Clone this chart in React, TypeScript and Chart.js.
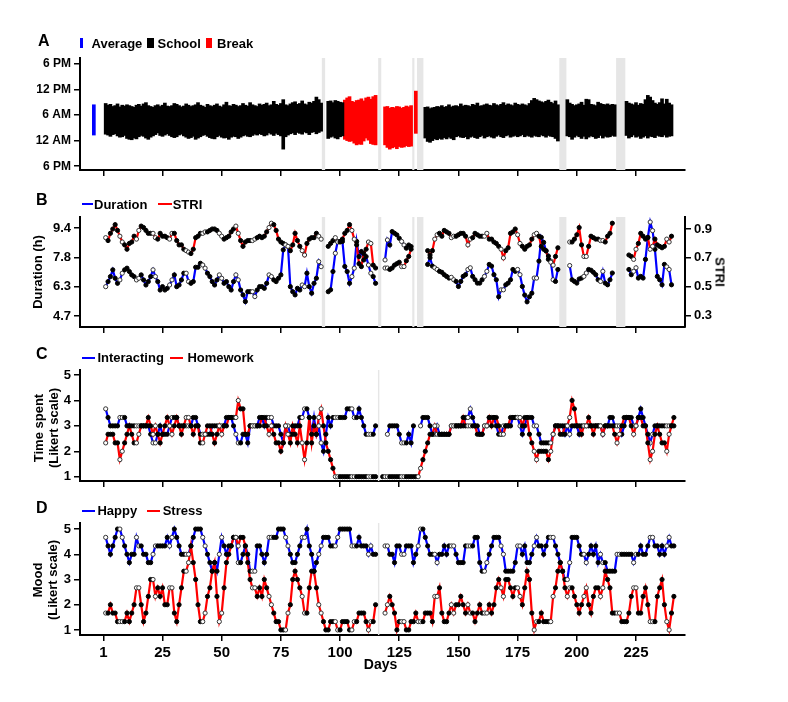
import React, { useEffect, useRef } from "react";
import { Chart, registerables } from "chart.js";

Chart.register(...registerables);

const FONT = "'Liberation Sans', Arial, Helvetica, sans-serif";
Chart.defaults.font.family = FONT;
Chart.defaults.color = "#000";

const BLUE = "#0000ff";
const RED = "#ff0000";
const BAND = "#e6e6e6";

// ---------- shared x axis (days) ----------
const X_MIN = -9.85;
const X_MAX = 245.7;
const xTickValues = [0, 25, 50, 75, 100, 125, 150, 175, 200, 225];
const xTickLabels = ["1", "25", "50", "75", "100", "125", "150", "175", "200", "225"];

// grey "no data" bands (day ranges)
const bandsAB: [number, number][] = [
  [92.3, 93.7], [116.1, 117.4], [130.5, 131.4], [132.5, 135.2], [192.6, 195.6], [216.6, 220.5],
];
const bandsCD: [number, number][] = [[116.0, 116.6]];

// ---------- Panel A: sleep (hours after 6 PM of the previous day) ----------
const sleepTickValues = [0, 6, 12, 18, 24];
const sleepTickLabels = ["6 PM", "12 AM", "6 AM", "12 PM", "6 PM"];
const avgDay = -4;
const avgBed = 7.3;
const avgWake = 14.4;

const schoolStarts = [1, 95, 136, 196, 221];
const schoolWake = [
  [14.7, 14.3, 14.5, 14.0, 14.2, 14.6, 13.9, 14.3, 14.1, 14.4,
   14.2, 14.0, 13.8, 14.3, 14.5, 14.1, 14.6, 14.9, 14.2, 14.0,
   13.8, 14.2, 14.4, 14.0, 14.3, 14.8, 14.1, 14.0, 14.2, 14.7,
   14.5, 14.2, 13.9, 14.1, 14.6, 14.3, 14.0, 14.2, 14.4, 14.9,
   14.3, 14.1, 13.8, 14.5, 14.2, 14.0, 14.3, 14.6, 14.1, 13.9,
   14.4, 15.0, 14.2, 14.1, 14.5, 14.3, 14.0, 14.2, 14.7, 14.3,
   14.1, 14.9, 14.4, 14.2, 14.0, 14.6, 14.3, 14.5, 14.8, 14.2,
   14.4, 15.2, 14.5, 14.3, 14.7, 15.6, 14.4, 14.2, 14.6, 14.9,
   15.1, 14.5, 14.7, 15.3, 14.6, 14.4, 15.0, 14.8, 15.2, 16.2,
   15.6, 14.8],
  [15.2, 15.3, 14.9, 15.4, 15.2, 15.0, 14.9],
  [13.8, 13.9, 13.5, 13.7, 13.8, 14.0, 13.9, 14.2, 13.8, 14.0,
   14.4, 13.9, 14.1, 14.2, 14.0, 14.6, 14.1, 14.3, 14.2, 14.0,
   14.5, 14.3, 14.8, 14.1, 14.2, 14.4, 14.6, 14.3, 14.2, 14.7,
   14.4, 14.2, 14.5, 14.9, 14.3, 14.6, 14.4, 14.2, 14.8, 14.5,
   14.3, 14.6, 14.4, 14.2, 14.7, 15.4, 15.9, 15.6, 15.3, 15.1,
   14.9, 15.2, 15.5, 15.0, 14.7, 15.3, 14.4],
  [15.6, 14.8, 14.5, 14.2, 14.4, 14.6, 15.0, 14.3, 15.7, 15.6,
   14.5, 14.4, 14.2, 15.0, 14.7, 14.5, 14.4, 14.6, 14.3, 14.5, 14.4],
  [15.2, 14.8, 14.6, 14.4, 14.9, 14.3, 14.7, 14.5, 15.6, 16.6,
   16.2, 15.4, 14.8, 14.5, 14.9, 15.8, 14.6, 15.7, 14.8, 14.4],
];
const schoolBed = [
  [7.5, 7.3, 7.0, 7.4, 7.6, 7.1, 6.8, 6.9, 7.2, 6.5,
   6.3, 6.2, 6.6, 6.4, 6.9, 7.2, 7.0, 6.6, 6.3, 6.8,
   7.1, 7.4, 7.8, 7.2, 7.0, 7.3, 7.6, 7.2, 6.9, 6.7,
   6.9, 7.3, 7.5, 7.1, 6.8, 6.5, 6.7, 7.0, 6.3, 6.6,
   6.9, 7.2, 7.4, 7.0, 6.7, 6.5, 6.4, 6.9, 7.2, 6.8,
   6.6, 6.7, 6.3, 6.8, 7.0, 6.9, 6.5, 6.8, 7.1, 7.3,
   7.0, 6.9, 7.2, 7.5, 7.3, 7.6, 7.4, 7.1, 7.3, 7.8,
   7.5, 7.2, 7.7, 7.4, 7.1, 4.0, 6.9, 7.3, 7.6, 7.8,
   7.4, 7.9, 7.7, 7.5, 8.0, 7.8, 7.4, 7.9, 8.1, 7.6,
   7.9, 8.2],
  [6.5, 6.8, 7.0, 6.6, 6.4, 6.9, 7.1],
  [6.6, 5.8, 5.6, 6.0, 6.4, 6.2, 6.5, 6.3, 6.7, 6.4,
   6.8, 6.5, 6.2, 6.9, 7.1, 6.8, 6.7, 6.9, 6.4, 6.8,
   7.0, 6.7, 6.5, 6.9, 7.2, 6.6, 6.9, 7.1, 6.8, 6.6,
   7.0, 7.3, 6.9, 6.7, 7.1, 7.3, 6.8, 7.0, 7.2, 6.9,
   7.1, 7.4, 6.9, 7.2, 7.0, 6.8, 7.2, 7.0, 6.9, 7.3,
   7.1, 6.8, 7.2, 7.0, 6.9, 6.5, 5.9],
  [7.1, 6.9, 6.3, 6.8, 7.2, 6.9, 6.5, 7.0, 6.4, 6.8,
   7.1, 6.9, 6.5, 6.7, 7.2, 6.6, 7.0, 6.8, 6.9, 7.2, 7.0],
  [7.2, 6.6, 6.9, 7.3, 6.8, 7.0, 6.5, 6.8, 7.1, 6.6,
   7.0, 6.9, 6.7, 7.2, 7.0, 6.9, 7.3, 6.8, 7.0, 7.1],
];
const breakStarts = [102, 119, 132];
const breakWake = [
  [15.5, 16.0, 16.3, 15.2, 15.0, 15.4, 15.5, 15.8, 15.3, 16.0, 16.2, 15.7, 16.3, 16.6],
  [13.9, 14.0, 13.6, 13.8, 13.7, 14.0, 13.9, 13.6, 13.8, 14.1, 13.9, 14.2],
  [17.6],
];
const breakBed = [
  [6.3, 6.0, 5.8, 5.9, 5.4, 5.0, 5.2, 5.1, 5.9, 6.6, 6.1, 5.3, 5.1, 5.0],
  [5.0, 4.4, 4.0, 4.3, 4.5, 4.1, 4.6, 4.4, 4.5, 4.8, 4.6, 4.7],
  [7.7],
];

// ---------- Panel B: sleep duration (h) and STRI ----------
type Seg = [number, number[]];
const durationTicks = [4.7, 6.2667, 7.8333, 9.4];
const durationTickLabels = ["4.7", "6.3", "7.8", "9.4"];
const striTicks = [0.3, 0.5, 0.7, 0.9];
const striTickLabels = ["0.3", "0.5", "0.7", "0.9"];

const durationSegs: Seg[] = [
  [1, [6.27, 6.54, 6.81, 7.17, 6.72, 6.45, 6.63, 6.99, 7.17, 7.26,
       7.08, 6.90, 6.81, 6.63, 6.72, 6.90, 6.63, 6.36, 6.54, 6.81,
       7.17, 6.81, 6.54, 6.09, 6.27, 6.09, 6.18, 6.36, 6.63, 6.90,
       6.27, 6.36, 6.63, 6.99, 6.99, 6.54, 6.45, 6.54, 7.31, 7.31,
       7.52, 7.43, 7.26, 6.99, 6.81, 6.54, 6.36, 6.63, 6.90, 6.72,
       6.45, 6.54, 6.27, 6.09, 6.54, 6.90, 6.63, 6.09, 5.83, 5.47,
       6.00, 6.00, 6.00, 5.74, 6.09, 6.27, 6.27, 6.18, 6.45, 6.90,
       6.81, 6.63, 6.54, 6.72, 6.90, 8.24, 8.51, 8.42, 6.27, 6.00,
       5.83, 6.18, 6.09, 6.36, 6.27, 6.99, 6.27, 5.92, 6.45, 6.72,
       7.61, 7.34]],
  [95, [6.0, 6.1, 7.08, 8.06, 8.69, 8.69, 8.69, 7.35, 7.08, 6.45, 6.81,
        7.26, 8.69, 7.88, 8.15, 7.7, 7.88, 7.43, 6.99, 6.81, 6.45]],
  [119, [7.7, 8.77, 8.5, 9.22, 9.13, 9.04, 8.86, 8.69, 8.5, 8.33, 8.5, 8.42]],
  [137, [7.46, 7.82, 7.37, 7.28, 7.19, 7.09, 7.04, 6.91, 6.82, 6.73,
         6.77, 6.64, 6.55, 6.28, 6.55, 6.82, 6.91, 7.19, 7.28, 6.82,
         6.64, 6.46, 6.46, 6.64, 6.82, 7.09, 7.46, 7.37, 6.91, 6.64,
         5.73, 6.10, 6.10, 6.37, 6.46, 6.64, 7.19, 7.09, 7.19, 6.91,
         6.28, 5.82, 5.46, 5.73, 5.92, 6.73, 6.73, 7.64, 8.91, 8.64,
         8.18, 7.91, 7.64, 6.64, 6.55, 7.19]],
  [197, [7.40, 6.64, 6.55, 6.46, 6.68, 6.73, 6.82, 7.00, 7.19, 7.15,
         7.04, 6.91, 6.64, 6.55, 7.09, 6.46, 6.37, 6.64, 7.00]],
  [222, [7.19, 6.91, 7.09, 7.28, 6.73, 6.82, 6.73, 7.73, 8.91, 9.73,
         9.27, 8.27, 6.82, 6.64, 6.37, 7.46, 7.33, 7.19, 6.37]],
];
const striSegs: Seg[] = [
  [1, [0.84, 0.82, 0.87, 0.90, 0.93, 0.89, 0.85, 0.81, 0.79, 0.76,
       0.80, 0.81, 0.85, 0.83, 0.89, 0.92, 0.91, 0.89, 0.87, 0.87,
       0.87, 0.84, 0.83, 0.87, 0.85, 0.85, 0.84, 0.83, 0.87, 0.87,
       0.82, 0.79, 0.79, 0.76, 0.75, 0.74, 0.73, 0.76, 0.84, 0.85,
       0.87, 0.87, 0.88, 0.88, 0.89, 0.90, 0.90, 0.89, 0.87, 0.85,
       0.83, 0.84, 0.85, 0.88, 0.90, 0.92, 0.87, 0.82, 0.78, 0.81,
       0.82, 0.82, 0.82, 0.83, 0.84, 0.85, 0.84, 0.85, 0.88, 0.91,
       0.94, 0.93, 0.89, 0.83, 0.81, 0.80, 0.79, 0.78, 0.75, 0.79,
       0.87, 0.82, 0.78, 0.75, 0.72, 0.80, 0.83, 0.84, 0.84, 0.87,
       0.85, 0.83]],
  [95, [0.78, 0.80, 0.82, 0.84, 0.81, 0.81, 0.83, 0.87, 0.89, 0.93, 0.89,
        0.83, 0.79, 0.66, 0.64, 0.73, 0.76, 0.81, 0.80, 0.65, 0.63]],
  [119, [0.63, 0.63, 0.62, 0.63, 0.65, 0.66, 0.67, 0.64, 0.64, 0.68, 0.71, 0.76]],
  [137, [0.75, 0.72, 0.75, 0.83, 0.86, 0.87, 0.85, 0.89, 0.88, 0.87,
         0.84, 0.85, 0.85, 0.86, 0.87, 0.87, 0.85, 0.79, 0.83, 0.84,
         0.87, 0.86, 0.85, 0.85, 0.85, 0.87, 0.83, 0.83, 0.81, 0.80,
         0.78, 0.76, 0.70, 0.75, 0.77, 0.87, 0.88, 0.90, 0.86, 0.80,
         0.78, 0.76, 0.78, 0.79, 0.83, 0.86, 0.87, 0.85, 0.78, 0.76,
         0.75, 0.69, 0.67, 0.65, 0.71, 0.77]],
  [197, [0.81, 0.81, 0.83, 0.86, 0.91, 0.79, 0.71, 0.71, 0.78, 0.85,
         0.84, 0.83, 0.83, 0.82, 0.82, 0.81, 0.85, 0.87, 0.94]],
  [222, [0.72, 0.71, 0.69, 0.76, 0.80, 0.87, 0.85, 0.83, 0.84, 0.76,
         0.78, 0.83, 0.79, 0.78, 0.77, 0.78, 0.83, 0.81, 0.85]],
];

// ---------- Panel C: time spent (Likert) ----------
const likertTicks = [1, 2, 3, 4, 5];
const likertTickLabels = ["1", "2", "3", "4", "5"];
const interactingSegs: Seg[] = [
  [1, [3.67, 3.33, 3.0, 3.0, 3.0, 3.0, 3.33, 3.33, 3.33, 3.0,
       3.0, 3.0, 3.0, 3.0, 3.0, 3.0, 3.0, 3.0, 3.0, 2.67,
       2.33, 2.33, 2.67, 3.0, 2.67, 2.67, 2.67, 3.0, 3.33, 3.33,
       3.33, 3.0, 3.0, 3.0, 3.0, 3.0, 3.0, 3.33, 3.33, 3.0,
       2.67, 2.67, 2.67, 2.67, 2.67, 3.0, 3.0, 3.0, 3.0, 3.0,
       3.0, 3.33, 3.33, 3.33, 3.0, 2.67, 2.33, 2.33, 2.67, 2.67,
       2.33, 3.0, 3.0, 3.0, 3.0, 3.33, 3.33, 3.0, 3.33, 3.33,
       3.33, 3.0, 3.0, 3.0, 2.67, 2.33, 3.0, 3.0, 2.67, 2.67,
       3.0, 3.0, 3.33, 3.33, 3.67, 3.67, 3.33, 2.67, 3.33, 2.67,
       3.0, 2.33, 2.0, 2.67, 3.33, 3.0, 3.33, 3.33, 3.33, 3.33,
       3.33, 3.33, 3.67, 3.67, 3.67, 3.33, 3.33, 3.67, 3.33, 3.0,
       2.67, 2.67, 2.67, 2.67, 3.0]],
  [120, [2.67, 3.0, 3.0, 3.0, 3.0, 2.67, 2.33, 2.33, 2.33, 2.67, 2.33, 3.0]],
  [134, [3.0, 3.33, 3.33, 3.33, 3.0, 2.67, 2.67, 3.0, 2.67, 2.67,
         2.67, 2.67, 2.67, 3.0, 3.0, 3.0, 3.0, 3.0, 3.0, 3.33,
         3.33, 3.67, 3.33, 3.0, 3.0, 2.67, 2.67, 3.0, 3.0, 3.33,
         3.33, 3.33, 3.0, 2.67, 2.67, 3.0, 3.0, 3.0, 3.0, 3.33,
         3.33, 3.33, 3.0, 2.67, 3.0, 3.33, 3.33, 3.33, 3.0, 3.0,
         2.67, 2.33, 2.33, 2.33, 2.33, 2.33, 2.67, 3.0, 3.0, 3.0,
         3.0, 2.67, 3.0, 2.67, 3.0, 3.0, 3.0, 2.67, 3.0, 3.0,
         3.0, 3.0, 3.0, 3.0, 3.0, 3.0, 3.0, 2.67, 3.0, 3.0,
         3.33, 3.33, 3.0, 3.0, 3.0, 2.67, 3.0, 3.33, 3.33, 3.33,
         3.0, 3.0, 3.33, 3.67, 3.33, 3.0, 2.67, 2.33, 2.67, 3.0,
         3.0, 3.0, 3.0, 3.0, 3.0, 3.0, 3.0, 3.0]],
];
const homeworkSegs: Seg[] = [
  [1, [2.33, 2.67, 2.67, 2.67, 2.33, 2.33, 1.67, 2.0, 2.33, 2.67,
       3.0, 2.67, 2.33, 2.33, 2.67, 3.0, 3.0, 3.0, 3.33, 3.0,
       2.67, 3.0, 2.67, 2.33, 2.67, 3.0, 3.33, 3.0, 2.67, 3.0,
       3.33, 3.0, 2.67, 3.0, 3.33, 3.33, 3.0, 2.67, 3.0, 3.0,
       2.33, 2.33, 2.67, 3.0, 3.0, 2.67, 2.33, 2.67, 3.0, 2.67,
       3.0, 3.0, 3.33, 3.33, 3.33, 3.33, 4.0, 3.67, 3.67, 2.67,
       2.67, 3.0, 3.0, 3.0, 3.0, 3.0, 3.33, 3.33, 3.0, 2.67,
       3.0, 2.67, 2.33, 2.33, 2.0, 2.33, 3.0, 2.67, 2.33, 3.0,
       2.67, 2.33, 3.0, 2.33, 1.67, 2.33, 3.33, 2.33, 3.0, 2.67,
       3.33, 3.67, 3.0, 2.33, 2.0, 1.67, 1.33, 1.0, 1.0, 1.0,
       1.0, 1.0, 1.0, 1.0, 1.0, 1.0, 1.0, 1.0, 1.0, 1.0,
       1.0, 1.0, 1.0, 1.0, 1.0]],
  [118, [1.0, 1.0, 1.0, 1.0, 1.0, 1.0, 1.0, 1.0, 1.0, 1.0,
         1.0, 1.0, 1.0, 1.0, 1.0, 1.0,
         1.33, 1.67, 2.0, 2.33, 2.67, 2.67, 3.0, 2.67, 2.67, 2.67,
         2.67, 2.67, 2.67, 3.0, 3.0, 3.0, 3.0, 3.0, 3.33, 3.0,
         3.0, 3.0, 3.0, 3.0, 2.67, 2.67, 2.67, 3.0, 3.0, 3.33,
         3.0, 3.33, 3.33, 3.0, 2.67, 2.67, 3.0, 3.0, 3.33, 3.33,
         3.33, 3.33, 3.33, 3.0, 3.33, 3.33, 2.67, 2.33, 2.0, 1.67,
         2.0, 2.0, 2.0, 2.0, 1.67, 2.0, 2.67, 3.0, 3.0, 2.67,
         2.67, 3.0, 3.0, 3.33, 4.0, 3.67, 3.0, 3.0, 2.67, 3.0,
         3.0, 3.33, 3.0, 2.67, 3.0, 3.0, 3.0, 2.67, 3.0, 3.0,
         3.0, 3.0, 2.67, 2.33, 2.67, 3.0, 3.33, 3.33, 3.33, 3.0,
         2.67, 3.0, 3.33, 3.33, 3.0, 3.0, 2.33, 1.67, 2.0, 2.67,
         3.0, 2.67, 2.33, 2.33, 2.0, 2.67, 3.0, 3.33]],
];

// ---------- Panel D: mood (Likert) ----------
const happySegs: Seg[] = [
  [1, [4.67, 4.33, 4.0, 4.33, 4.67, 5.0, 5.0, 4.67, 4.33, 4.0,
       3.67, 4.0, 4.0, 4.67, 4.33, 4.33, 4.0, 4.0, 3.67, 3.67,
       4.0, 4.33, 4.33, 4.33, 4.33, 4.33, 4.67, 4.33, 4.67, 5.0,
       4.67, 4.33, 4.0, 4.0, 4.0, 4.0, 4.33, 4.67, 5.0, 5.0,
       5.0, 4.67, 4.33, 4.0, 3.67, 3.33, 3.67, 3.33, 4.0, 4.67,
       4.33, 4.0, 4.33, 4.33, 4.67, 4.67, 3.67, 3.67, 4.0, 4.33,
       4.0, 3.33, 3.33, 3.33, 4.33, 4.33, 4.0, 3.67, 4.0, 4.67,
       4.67, 4.67, 4.67, 5.0, 5.0, 5.0, 4.67, 4.33, 4.0, 3.67,
       3.67, 4.0, 4.33, 4.67, 4.67, 5.0, 4.33, 4.0, 3.33, 3.67,
       4.0, 4.33, 4.67, 4.67, 4.67, 4.33, 4.33, 4.33, 4.67, 5.0,
       5.0, 5.0, 5.0, 5.0, 4.33, 4.33, 4.33, 4.67, 4.33, 4.33,
       4.33, 4.0, 4.33, 4.0, 4.0]],
  [119, [4.33, 4.33, 4.0, 4.0, 3.67, 4.33,
         4.33, 4.0, 4.0, 4.33, 4.33, 4.33, 3.67, 4.0, 4.33, 5.0,
         5.0, 4.67, 4.33, 4.0, 4.0, 4.0, 3.67, 4.0, 4.0, 4.33,
         4.0, 4.33, 4.33, 4.33, 4.0, 3.67, 3.67, 3.67, 4.33, 4.33,
         4.33, 4.33, 4.67, 4.67, 3.67, 3.33, 3.33, 3.67, 4.0, 4.33,
         4.67, 4.67, 4.67, 4.33, 4.0, 3.33, 3.33, 3.33, 3.33, 3.67,
         4.33, 4.33, 4.0, 4.33, 3.67, 3.67, 4.0, 4.33, 4.67, 4.33,
         4.33, 4.0, 4.33, 4.67, 4.67, 4.67, 4.33, 4.0, 3.67, 3.33,
         3.0, 3.0, 3.67, 4.67, 4.67, 4.67, 4.33, 4.0, 4.0, 3.67,
         4.0, 4.33, 4.0, 4.33, 3.67, 4.0, 3.67, 3.67, 3.33, 3.33,
         3.33, 3.33, 4.0, 4.0, 4.0, 4.0, 4.0, 4.0, 4.0, 3.67,
         4.0, 4.0, 4.33, 4.0, 4.0, 4.33, 4.67, 4.67, 4.33, 4.33,
         4.0, 4.33, 4.0, 4.33, 4.67, 4.33, 4.33]],
];
const stressSegs: Seg[] = [
  [1, [1.67, 1.67, 2.0, 1.67, 1.67, 1.33, 1.33, 1.33, 1.33, 1.67,
       1.33, 1.67, 2.0, 2.67, 2.67, 2.0, 1.33, 1.67, 2.33, 3.0,
       3.0, 2.33, 2.67, 2.33, 2.67, 2.0, 2.0, 2.67, 2.67, 1.67,
       1.33, 2.0, 2.67, 3.33, 3.33, 3.67, 4.33, 3.67, 3.0, 2.0,
       1.33, 1.33, 1.67, 2.33, 2.67, 3.33, 3.67, 2.33, 1.33, 1.67,
       2.67, 3.67, 4.0, 4.33, 4.67, 4.67, 4.33, 4.67, 4.67, 4.33,
       3.67, 3.0, 2.67, 2.67, 2.33, 2.67, 2.33, 3.0, 2.67, 2.33,
       2.0, 1.67, 1.33, 1.33, 1.0, 1.0, 1.0, 1.67, 2.0, 3.0,
       3.33, 3.0, 2.67, 2.33, 1.67, 1.67, 2.67, 3.33, 3.33, 2.67,
       2.0, 1.67, 1.33, 1.0, 1.0, 1.33, 1.33, 1.33, 1.0, 1.0,
       1.33, 1.33, 1.33, 1.0, 1.0, 1.33, 1.33, 1.67, 1.67, 1.67,
       1.33, 1.0, 1.33, 1.33, 2.0]],
  [119, [1.67, 2.0, 2.33, 2.0, 1.67, 1.0,
         1.33, 1.33, 1.33, 1.0, 1.0, 1.33, 1.33, 1.67, 1.33, 1.33,
         1.33, 1.67, 1.67, 1.67, 1.33, 2.33, 2.33, 2.67, 1.67, 1.33,
         1.33, 1.67, 2.0, 1.67, 2.0, 2.0, 2.33, 2.0, 1.67, 2.0,
         1.67, 1.67, 1.33, 1.67, 2.0, 1.67, 1.67, 1.67, 2.0, 1.67,
         2.0, 2.67, 3.0, 2.67, 2.33, 3.0, 3.0, 2.67, 2.33, 2.67,
         2.67, 2.33, 2.0, 2.67, 3.33, 3.0, 1.67, 1.0, 1.33, 1.33,
         1.67, 1.33, 1.33, 1.33, 1.33, 2.33, 2.67, 3.33, 3.67, 3.33,
         2.67, 2.33, 2.67, 2.67, 2.33, 2.0, 1.67, 2.0, 2.33, 2.67,
         2.0, 1.67, 2.33, 2.67, 2.67, 2.33, 2.67, 3.33, 3.0, 2.67,
         1.67, 1.67, 1.67, 1.67, 1.33, 1.33, 1.33, 1.67, 2.33, 2.67,
         2.67, 1.67, 1.67, 2.33, 2.67, 2.0, 1.33, 1.33, 1.33, 2.33,
         2.67, 3.0, 2.0, 1.33, 1.0, 1.67, 2.33]],
];

// ---------- helpers ----------
function isWeekend(d: number) {
  const r = d % 7;
  return r === 0 || r === 1;
}

function linePoints(segs: Seg[]) {
  const pts: { x: number; y: number | null }[] = [];
  segs.forEach(([start, vals], k) => {
    if (k > 0) pts.push({ x: start - 0.5, y: null });
    vals.forEach((v, i) => pts.push({ x: start + i, y: v }));
  });
  return pts;
}

function barPoints(starts: number[], wake: number[][], bed: number[][]) {
  const pts: { x: number; y: [number, number] }[] = [];
  starts.forEach((s, k) => {
    wake[k].forEach((w, i) => pts.push({ x: s + i, y: [bed[k][i], w] }));
  });
  return pts;
}

const bandPlugin = {
  id: "bands",
  beforeDatasetsDraw(chart: any, _args: any, opts: any) {
    const { ctx, chartArea, scales } = chart;
    const x = scales.x;
    ctx.save();
    ctx.fillStyle = opts.color;
    for (const [a, b] of opts.bands) {
      const x1 = x.getPixelForValue(a);
      const x2 = x.getPixelForValue(b);
      ctx.fillRect(x1, chartArea.top, x2 - x1, chartArea.bottom - chartArea.top);
    }
    ctx.restore();
  },
};

function xAxis(showLabels: boolean, height: number) {
  return {
    type: "linear",
    min: X_MIN,
    max: X_MAX,
    offset: false,
    afterBuildTicks: (s: any) => {
      s.ticks = xTickValues.map((v) => ({ value: v }));
    },
    afterFit: (s: any) => {
      s.height = height;
    },
    ticks: {
      autoSkip: false,
      maxRotation: 0,
      padding: 3,
      color: "#000",
      font: { family: FONT, size: 15, weight: "bold" },
      callback: (_v: any, i: number) => (showLabels ? xTickLabels[i] : ""),
    },
    grid: { drawOnChartArea: false, drawTicks: true, tickLength: 6, color: "#000", lineWidth: 1.5, offset: false },
    border: { display: true, color: "#000", width: 2 },
  };
}

function yAxis(min: number, max: number, values: number[], labels: string[], position: string, width: number, size: number) {
  return {
    type: "linear",
    position,
    min,
    max,
    offset: false,
    afterBuildTicks: (s: any) => {
      s.ticks = values.map((v) => ({ value: v }));
    },
    afterFit: (s: any) => {
      s.width = width;
    },
    ticks: {
      autoSkip: false,
      padding: 3,
      color: "#000",
      font: { family: FONT, size, weight: "bold" },
      callback: (_v: any, i: number) => labels[i],
    },
    grid: { drawOnChartArea: false, drawTicks: true, tickLength: 6, color: "#000", lineWidth: 1.5, offset: false },
    border: { display: true, color: "#000", width: 2 },
  };
}

function baseOptions(padTop: number, padRight: number, bands: [number, number][]) {
  return {
    responsive: false,
    maintainAspectRatio: false,
    animation: false,
    events: [],
    layout: { padding: { top: padTop, right: padRight, left: 0, bottom: 0 } },
    plugins: {
      legend: { display: false },
      tooltip: { enabled: false },
      bands: { bands, color: BAND },
    },
  };
}

const pointFill = (ctx: any) => (ctx.raw && isWeekend(ctx.raw.x) ? "#ffffff" : "#000000");
const pointEdge = (ctx: any) => (ctx.raw && isWeekend(ctx.raw.x) ? "#333333" : "#000000");

function pairDatasets(a: Seg[], b: Seg[], axisA: string, axisB: string) {
  const pa = linePoints(a);
  const pb = linePoints(b);
  const pts = { showLine: false, pointRadius: 2.1, pointBorderWidth: 1, pointBackgroundColor: pointFill, pointBorderColor: pointEdge };
  return [
    { data: pa, borderColor: BLUE, borderWidth: 2.2, pointRadius: 0, spanGaps: false, yAxisID: axisA, order: 4 },
    { data: pb, borderColor: RED, borderWidth: 2.2, pointRadius: 0, spanGaps: false, yAxisID: axisB, order: 3 },
    { data: pa, ...pts, yAxisID: axisA, order: 2 },
    { data: pb, ...pts, yAxisID: axisB, order: 1 },
  ];
}

function configA() {
  const common = { borderWidth: 0, grouped: false, categoryPercentage: 1, barPercentage: 1, barThickness: 3 };
  return {
    type: "bar",
    data: {
      datasets: [
        { data: [{ x: avgDay, y: [avgBed, avgWake] }], backgroundColor: BLUE, ...common },
        { data: barPoints(schoolStarts, schoolWake, schoolBed), backgroundColor: "#000000", ...common },
        { data: barPoints(breakStarts, breakWake, breakBed), backgroundColor: RED, ...common },
      ],
    },
    options: {
      ...baseOptions(18, 103, bandsAB),
      scales: {
        x: xAxis(false, 15),
        y: yAxis(-0.89, 25.36, sleepTickValues, sleepTickLabels, "left", 80, 12),
      },
    },
    plugins: [bandPlugin],
  };
}

function configB() {
  return {
    type: "line",
    data: { datasets: pairDatasets(durationSegs, striSegs, "y", "y2") },
    options: {
      ...baseOptions(17, 0, bandsAB),
      scales: {
        x: xAxis(false, 13),
        y: yAxis(4.11, 10.0, durationTicks, durationTickLabels, "left", 80, 13),
        y2: yAxis(0.222, 0.983, striTicks, striTickLabels, "right", 103, 13),
      },
    },
    plugins: [bandPlugin],
  };
}

function configC() {
  return {
    type: "line",
    data: { datasets: pairDatasets(interactingSegs, homeworkSegs, "y", "y") },
    options: {
      ...baseOptions(15, 103, bandsCD),
      scales: {
        x: xAxis(false, 14),
        y: yAxis(0.83, 5.2, likertTicks, likertTickLabels, "left", 80, 13),
      },
    },
    plugins: [bandPlugin],
  };
}

function configD() {
  return {
    type: "line",
    data: { datasets: pairDatasets(happySegs, stressSegs, "y", "y") },
    options: {
      ...baseOptions(18, 103, bandsCD),
      scales: {
        x: xAxis(true, 67),
        y: yAxis(0.8, 5.24, likertTicks, likertTickLabels, "left", 80, 13),
      },
    },
    plugins: [bandPlugin],
  };
}

function ChartCanvas({ top, height, make }: { top: number; height: number; make: () => any }) {
  const ref = useRef<HTMLCanvasElement>(null);
  useEffect(() => {
    const chart = new Chart(ref.current as HTMLCanvasElement, make());
    return () => chart.destroy();
  }, []);
  return (
    <canvas
      ref={ref}
      width={788}
      height={height}
      style={{ position: "absolute", left: 0, top, width: 788, height }}
    />
  );
}

const txt: React.CSSProperties = {
  position: "absolute",
  fontFamily: FONT,
  fontWeight: "bold",
  color: "#000",
  whiteSpace: "nowrap",
  lineHeight: 1,
};

function T({ x, y, size, children }: { x: number; y: number; size: number; children: React.ReactNode }) {
  return <div style={{ ...txt, left: x, top: y - 0.49 * size, fontSize: size }}>{children}</div>;
}

function R({ cx, cy, size, rot, children }: { cx: number; cy: number; size: number; rot: number; children: React.ReactNode }) {
  return (
    <div style={{ ...txt, left: cx, top: cy, fontSize: size, transform: `translate(-50%, -50%) rotate(${rot}deg)` }}>
      {children}
    </div>
  );
}

function Box({ x, y, w, h, c }: { x: number; y: number; w: number; h: number; c: string }) {
  return <div style={{ position: "absolute", left: x, top: y, width: w, height: h, background: c }} />;
}

export default function App() {
  return (
    <div style={{ position: "absolute", left: 0, top: 0, width: 788, height: 702, background: "#fff", overflow: "hidden" }}>
      <ChartCanvas top={40} height={145} make={configA} />
      <ChartCanvas top={200} height={140} make={configB} />
      <ChartCanvas top={355} height={140} make={configC} />
      <ChartCanvas top={505} height={197} make={configD} />

      {/* Panel letters */}
      <T x={38} y={40.5} size={16}>A</T>
      <T x={36} y={200.3} size={16}>B</T>
      <T x={36} y={354} size={16}>C</T>
      <T x={36} y={508} size={16}>D</T>

      {/* Legend A */}
      <Box x={80} y={38} w={3.3} h={10} c={BLUE} />
      <T x={91.5} y={43} size={13}>Average</T>
      <Box x={147.3} y={38} w={6.7} h={10} c="#000" />
      <T x={157.5} y={43} size={13}>School</T>
      <Box x={205.7} y={38} w={6} h={10} c={RED} />
      <T x={217} y={43} size={13}>Break</T>

      {/* Legend B */}
      <Box x={82} y={203} w={11} h={2} c={BLUE} />
      <T x={94} y={204} size={13}>Duration</T>
      <Box x={158.3} y={203} w={13.4} h={2} c={RED} />
      <T x={172.7} y={204} size={13}>STRI</T>

      {/* Legend C */}
      <Box x={81.7} y={356.7} w={13.3} h={2} c={BLUE} />
      <T x={97.4} y={357.7} size={13}>Interacting</T>
      <Box x={170} y={356.7} w={13.3} h={2} c={RED} />
      <T x={187.4} y={357.7} size={13}>Homework</T>

      {/* Legend D */}
      <Box x={81.7} y={509.7} w={13.3} h={2} c={BLUE} />
      <T x={97.4} y={510.7} size={13}>Happy</T>
      <Box x={146.7} y={509.7} w={13.3} h={2} c={RED} />
      <T x={162.7} y={510.7} size={13}>Stress</T>

      {/* Axis titles */}
      <R cx={37} cy={272} size={13} rot={-90}>Duration (h)</R>
      <R cx={720} cy={272} size={13} rot={90}>STRI</R>
      <R cx={37.5} cy={428} size={13} rot={-90}>Time spent</R>
      <R cx={52.5} cy={428} size={13} rot={-90}>(Likert scale)</R>
      <R cx={37} cy={580} size={13} rot={-90}>Mood</R>
      <R cx={52} cy={580} size={13} rot={-90}>(Likert scale)</R>
      <R cx={380.5} cy={664} size={14} rot={0}>Days</R>
    </div>
  );
}
